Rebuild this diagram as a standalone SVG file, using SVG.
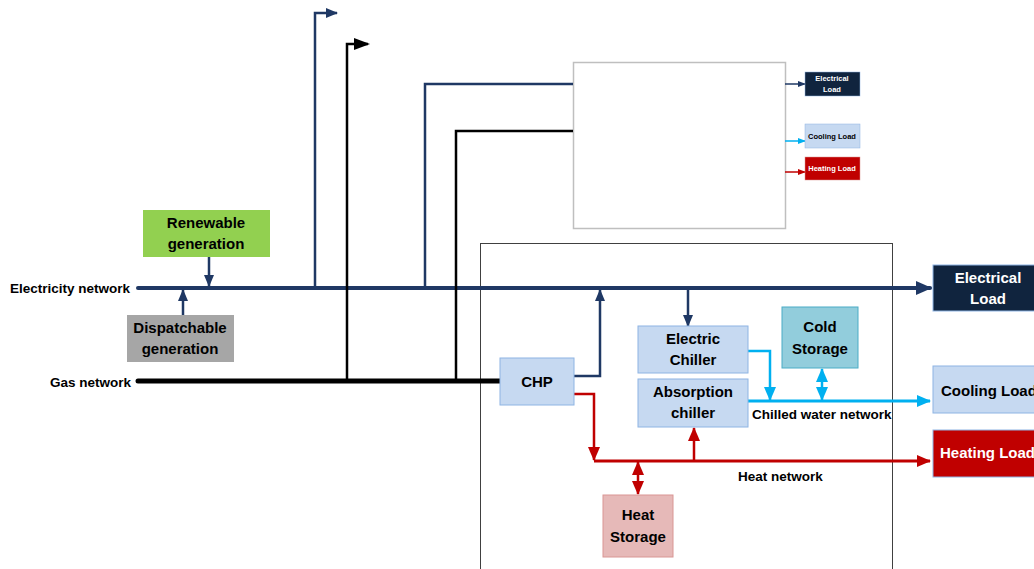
<svg xmlns="http://www.w3.org/2000/svg" width="1034" height="569" viewBox="0 0 1034 569">
<defs>
<style>
text{font-family:"Liberation Sans",Arial,sans-serif;font-weight:bold;}
.lbl{font-size:13.5px;fill:#000;}
.nt{font-size:15px;text-anchor:middle;fill:#000;}
.wt{font-size:15px;text-anchor:middle;fill:#fff;}
.st{font-size:7.5px;text-anchor:middle;}
.navy{stroke:#1f3864;fill:none;}
.blk{stroke:#000;fill:none;}
.cy{stroke:#00b0f0;fill:none;}
.rd{stroke:#c00000;fill:none;}
.box{stroke:#8eb4e3;stroke-width:1;}
</style>
<marker id="aN" markerUnits="userSpaceOnUse" markerWidth="16" markerHeight="14" refX="14" refY="7" orient="auto-start-reverse"><path d="M0,0 L16,7 L0,14 z" fill="#1f3864"/></marker>
<marker id="aNs" markerUnits="userSpaceOnUse" markerWidth="12" markerHeight="12" refX="11" refY="6" orient="auto-start-reverse"><path d="M0,1 L12,6 L0,11 z" fill="#1f3864"/></marker>
<marker id="aK" markerUnits="userSpaceOnUse" markerWidth="16" markerHeight="14" refX="14" refY="7" orient="auto"><path d="M0,1 L16,7 L0,13 z" fill="#000"/></marker>
<marker id="aC" markerUnits="userSpaceOnUse" markerWidth="14" markerHeight="12" refX="13" refY="6" orient="auto-start-reverse"><path d="M0,0 L14,6 L0,12 z" fill="#00b0f0"/></marker>
<marker id="aR" markerUnits="userSpaceOnUse" markerWidth="14" markerHeight="12" refX="13" refY="6" orient="auto-start-reverse"><path d="M0,0 L14,6 L0,12 z" fill="#c00000"/></marker>
<marker id="aSm" markerUnits="userSpaceOnUse" markerWidth="8" markerHeight="8" refX="7" refY="4" orient="auto"><path d="M0,1 L8,4 L0,7 z" fill="context-stroke"/></marker>
</defs>
<rect width="1034" height="569" fill="#fff"/>

<!-- frames -->
<rect id="top-box" x="573.5" y="62.5" width="212" height="166" fill="#fff" stroke="#bfbfbf" stroke-width="1.5"/>
<rect id="site-box" x="480.5" y="243.5" width="412" height="340" fill="none" stroke="#404040" stroke-width="1"/>

<g id="connectors">
<!-- electricity network -->
<line class="navy" x1="138" y1="288" x2="930" y2="288" stroke-width="4" stroke-linecap="round" marker-end="url(#aN)"/>
<line class="navy" x1="209" y1="257" x2="209" y2="286" stroke-width="2.5" marker-end="url(#aNs)"/>
<line class="navy" x1="183" y1="315" x2="183" y2="290" stroke-width="2.5" marker-end="url(#aNs)"/>
<polyline class="navy" points="315,288 315,13 337,13" stroke-width="2.5" marker-end="url(#aNs)"/>
<polyline class="navy" points="425,288 425,84 573,84" stroke-width="2.5"/>
<!-- gas network -->
<line class="blk" x1="138" y1="381" x2="500" y2="381" stroke-width="5" stroke-linecap="round"/>
<polyline class="blk" points="347,381 347,44 368,44" stroke-width="2.5" marker-end="url(#aK)"/>
<polyline class="blk" points="456,381 456,131 573,131" stroke-width="2.5"/>
<!-- small loads -->
<line x1="785" y1="84" x2="805" y2="84" stroke="#1f3864" stroke-width="1.5" marker-end="url(#aSm)"/>
<line x1="785" y1="141" x2="805" y2="141" stroke="#00b0f0" stroke-width="1.5" marker-end="url(#aSm)"/>
<line x1="785" y1="172" x2="805" y2="172" stroke="#c00000" stroke-width="1.5" marker-end="url(#aSm)"/>
<!-- CHP electricity -->
<polyline class="navy" points="574,376 600,376 600,290" stroke-width="2.5" marker-end="url(#aNs)"/>
<line class="navy" x1="688" y1="290" x2="688" y2="326" stroke-width="2.5" marker-end="url(#aNs)"/>
<!-- chilled water -->
<line class="cy" x1="748" y1="401" x2="930" y2="401" stroke-width="3" marker-end="url(#aC)"/>
<polyline class="cy" points="748,351 770,351 770,400" stroke-width="2.5" marker-end="url(#aC)"/>
<line class="cy" x1="822" y1="369" x2="822" y2="400" stroke-width="2.5" marker-start="url(#aC)" marker-end="url(#aC)"/>
<!-- heat -->
<line class="rd" x1="594" y1="461" x2="930" y2="461" stroke-width="3" marker-end="url(#aR)"/>
<polyline class="rd" points="574,394 594,394 594,460" stroke-width="2.5" marker-end="url(#aR)"/>
<line class="rd" x1="694" y1="461" x2="694" y2="428" stroke-width="2.5" marker-end="url(#aR)"/>
<line class="rd" x1="638" y1="462" x2="638" y2="494" stroke-width="2.5" marker-start="url(#aR)" marker-end="url(#aR)"/>
</g>

<!-- labels -->
<text class="lbl" x="10" y="293">Electricity network</text>
<text class="lbl" x="50" y="387">Gas network</text>
<text class="lbl" x="752" y="419">Chilled water network</text>
<text class="lbl" x="738" y="481">Heat network</text>

<g id="renewable">
<rect x="143" y="210" width="127" height="47" fill="#92d050"/>
<text class="nt" x="206" y="228">Renewable</text>
<text class="nt" x="206" y="249">generation</text>
</g>
<g id="dispatchable">
<rect x="127" y="315" width="107" height="47" fill="#a6a6a6"/>
<text class="nt" x="180" y="333">Dispatchable</text>
<text class="nt" x="180" y="354">generation</text>
</g>

<g id="small-electrical-load">
<rect x="805" y="72" width="55" height="24" fill="#10243e" stroke="#8eb4e3" stroke-width="0.5"/>
<text class="st" x="832" y="81" fill="#fff">Electrical</text>
<text class="st" x="832" y="92" fill="#fff">Load</text>
</g>
<g id="small-cooling-load">
<rect x="805" y="124" width="55" height="24" fill="#c6d9f1" stroke="#8eb4e3" stroke-width="0.5"/>
<text class="st" x="832" y="139" fill="#000">Cooling Load</text>
</g>
<g id="small-heating-load">
<rect x="805" y="157" width="55" height="23" fill="#c00000" stroke="#d99694" stroke-width="0.5"/>
<text class="st" x="832" y="171" fill="#fff">Heating Load</text>
</g>

<g id="chp">
<rect class="box" x="500" y="358" width="74" height="47" fill="#c6d9f1"/>
<text class="nt" x="537" y="387">CHP</text>
</g>
<g id="electric-chiller">
<rect class="box" x="638" y="326" width="110" height="47" fill="#c6d9f1"/>
<text class="nt" x="693" y="344">Electric</text>
<text class="nt" x="693" y="365">Chiller</text>
</g>
<g id="absorption-chiller">
<rect class="box" x="638" y="379" width="110" height="48" fill="#c6d9f1"/>
<text class="nt" x="693" y="397">Absorption</text>
<text class="nt" x="693" y="418">chiller</text>
</g>
<g id="cold-storage">
<rect x="782" y="307" width="76" height="61" fill="#92cddc" stroke="#4bacc6" stroke-width="1"/>
<text class="nt" x="820" y="332">Cold</text>
<text class="nt" x="820" y="354">Storage</text>
</g>
<g id="heat-storage">
<rect x="603" y="495" width="70" height="62" fill="#e6b9b8" stroke="#d99694" stroke-width="1"/>
<text class="nt" x="638" y="520">Heat</text>
<text class="nt" x="638" y="542">Storage</text>
</g>

<g id="electrical-load">
<rect x="933" y="265" width="110" height="46" fill="#10243e" stroke="#8eb4e3" stroke-width="1"/>
<text class="wt" x="988" y="283">Electrical</text>
<text class="wt" x="988" y="304">Load</text>
</g>
<g id="cooling-load">
<rect x="933" y="366" width="110" height="47" fill="#c6d9f1" stroke="#8eb4e3" stroke-width="1"/>
<text class="nt" x="941" y="396" style="text-anchor:start">Cooling Load</text>
</g>
<g id="heating-load">
<rect x="933" y="430" width="110" height="47" fill="#c00000" stroke="#8eb4e3" stroke-width="1"/>
<text class="wt" x="940" y="458" style="text-anchor:start">Heating Load</text>
</g>
</svg>
